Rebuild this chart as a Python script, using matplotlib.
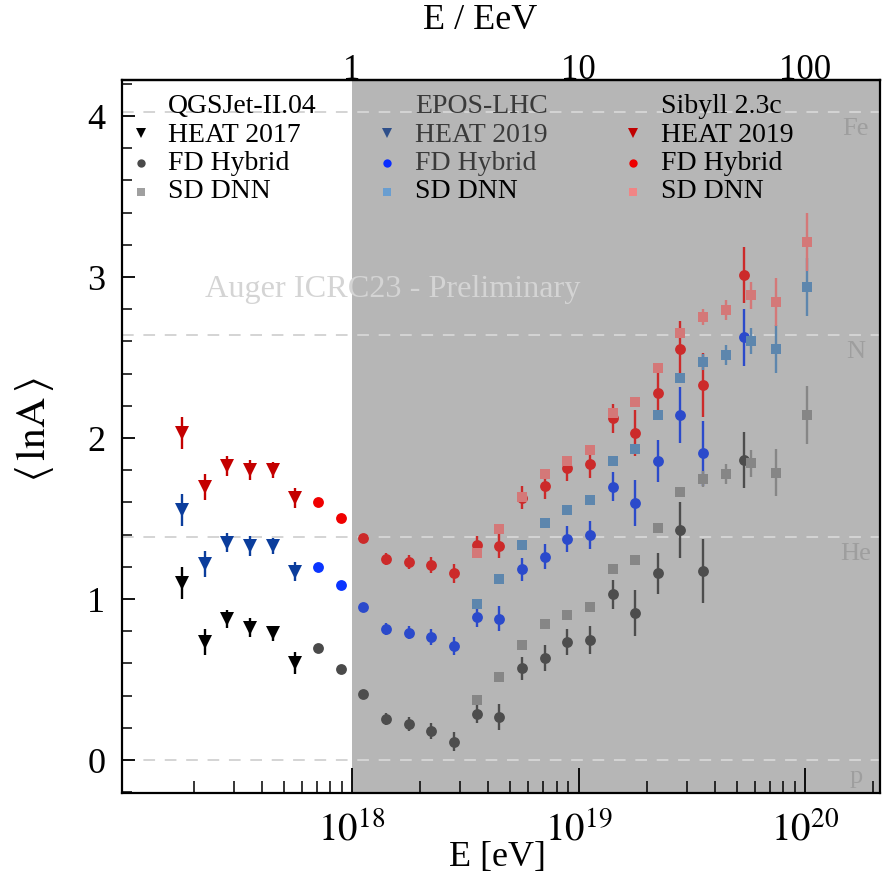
import numpy as np
import matplotlib
matplotlib.use("Agg")
import matplotlib.pyplot as plt
from matplotlib.ticker import FixedLocator, NullFormatter

plt.rcParams["font.family"] = ["Liberation Serif", "DejaVu Serif"]
plt.rcParams["mathtext.fontset"] = "stix"

# ---------------- data: <lnA> vs log10(E/eV) ----------------
# HEAT (low-energy extension) points
heat_lgE = [17.25, 17.35, 17.45, 17.55, 17.65, 17.75]
heat_qgs = [1.10, 0.735, 0.874, 0.822, 0.787, 0.600]
heat_qgs_err = [0.10, 0.08, 0.055, 0.06, 0.045, 0.068]
heat_epos = [1.553, 1.217, 1.350, 1.331, 1.331, 1.168]
heat_epos_err = [0.098, 0.083, 0.06, 0.062, 0.05, 0.059]
heat_sib = [2.029, 1.694, 1.826, 1.801, 1.801, 1.629]
heat_sib_err = [0.10, 0.08, 0.062, 0.062, 0.05, 0.062]

# FD hybrid points
fd_lgE = [17.85, 17.95, 18.05, 18.15, 18.25, 18.35, 18.45, 18.55, 18.65, 18.75,
          18.85, 18.95, 19.05, 19.15, 19.25, 19.35, 19.45, 19.55, 19.73]
fd_qgs = [0.694, 0.563, 0.412, 0.255, 0.224, 0.182, 0.114, 0.288, 0.267, 0.569,
          0.634, 0.731, 0.745, 1.031, 0.911, 1.159, 1.429, 1.176, 1.863]
fd_epos = [1.201, 1.085, 0.950, 0.813, 0.791, 0.764, 0.708, 0.886, 0.878, 1.186,
           1.263, 1.373, 1.398, 1.698, 1.594, 1.857, 2.143, 1.905, 2.625]
fd_sib = [1.604, 1.501, 1.377, 1.247, 1.230, 1.209, 1.160, 1.333, 1.331, 1.630,
          1.700, 1.811, 1.836, 2.122, 2.029, 2.277, 2.551, 2.331, 3.012]
fd_err = [0.012, 0.012, 0.02, 0.038, 0.042, 0.05, 0.058, 0.058, 0.078, 0.072,
          0.078, 0.08, 0.085, 0.09, 0.143, 0.128, 0.175, 0.20, 0.175]

# SD (deep neural network) points
sd_lgE = [18.55, 18.65, 18.75, 18.85, 18.95, 19.05, 19.15, 19.25, 19.35, 19.45,
          19.55, 19.65, 19.76, 19.87, 20.01]
sd_qgs = [0.373, 0.514, 0.712, 0.843, 0.902, 0.952, 1.184, 1.242, 1.443, 1.663,
          1.743, 1.775, 1.843, 1.785, 2.145]
sd_epos = [0.971, 1.122, 1.335, 1.470, 1.553, 1.615, 1.855, 1.934, 2.145, 2.375,
           2.474, 2.517, 2.604, 2.553, 2.936]
sd_sib = [1.284, 1.433, 1.634, 1.776, 1.859, 1.925, 2.157, 2.226, 2.437, 2.654,
          2.754, 2.795, 2.886, 2.845, 3.215]
sd_err = [0.02, 0.02, 0.02, 0.02, 0.025, 0.025, 0.03, 0.03, 0.03, 0.03,
          0.05, 0.062, 0.082, 0.148, 0.18]

# reference nuclei
nuclei = ["p", "He", "N", "Fe"]
mass_numbers = [1, 4, 14, 56]

SHADE_START = 1e18

# ---------------- figure ----------------
fig = plt.figure(figsize=(8.85, 8.76), dpi=100)
ax = fig.add_axes([0.1379, 0.0947, 0.8565, 0.814])
ax.set_xscale("log")
XMIN, XMAX = 10 ** 16.985, 10 ** 20.331
ax.axvspan(SHADE_START, 1e21, color="#b6b6b6", lw=0, zorder=0)


def draw(lgE, val, err, marker, ms, c_out, c_in, z):
    E = 10 ** np.asarray(lgE, float)
    v = np.asarray(val, float)
    e = np.asarray(err, float)
    for mask, col in ((E < SHADE_START, c_out), (E >= SHADE_START, c_in)):
        if mask.any():
            ax.errorbar(E[mask], v[mask], yerr=e[mask], fmt=marker, ms=ms,
                        color=col, mec=col, mfc=col, mew=0, elinewidth=1.7,
                        capsize=0, zorder=z)


# composition reference lines
for name, A in zip(nuclei, mass_numbers):
    lnA = np.log(A)
    ax.axhline(lnA, color="#d4d4d4", lw=1.4, ls=(0, (6, 5)), zorder=1)
    ax.text(0.968, lnA - 0.105, name, transform=ax.get_yaxis_transform(),
            ha="center", va="center", fontsize=19, color="#9e9e9e", zorder=1)

ax.text(0.1095, 2.925, "Auger ICRC23 - Preliminary",
        transform=ax.get_yaxis_transform(), ha="left", va="center",
        fontsize=23.2, color="#d4d4d4", zorder=1)

# HEAT
draw(heat_lgE, heat_qgs, heat_qgs_err, "v", 9.6, "#000000", "#000000", 3)
draw(heat_lgE, heat_epos, heat_epos_err, "v", 9.6, "#0b3d9c", "#0b3d9c", 3)
draw(heat_lgE, heat_sib, heat_sib_err, "v", 9.6, "#c40000", "#c40000", 3)
# FD hybrid
draw(fd_lgE, fd_qgs, fd_err, "o", 7.8, "#4a4a4a", "#4d4d4d", 3)
draw(fd_lgE, fd_epos, fd_err, "o", 7.8, "#0a35ff", "#2b4acb", 3)
draw(fd_lgE, fd_sib, fd_err, "o", 7.8, "#f00000", "#cc2a2a", 3)
# SD DNN
draw(sd_lgE, sd_qgs, sd_err, "s", 7.4, "#868686", "#868686", 4)
draw(sd_lgE, sd_epos, sd_err, "s", 7.4, "#5d86ad", "#5d86ad", 4)
draw(sd_lgE, sd_sib, sd_err, "s", 7.4, "#d47878", "#d47878", 4)

# ---------------- legend blocks ----------------
LEG_FS = 20
text_rows = [0.9537, 0.9137, 0.8738, 0.8345]
key_rows = [0.9253, 0.8841, 0.8434]
blocks = [
    (0.0251, 0.0607, "QGSJet-II.04",
     [("v", "#000000", 6.8, "HEAT 2017"), ("o", "#4a4a4a", 6.0, "FD Hybrid"),
      ("s", "#a0a0a0", 5.6, "SD DNN")],
     ["#000000", "#000000", "#000000", "#000000"]),
    (0.3496, 0.3865, "EPOS-LHC",
     [("v", "#2e4f8a", 6.8, "HEAT 2019"), ("o", "#0a2dff", 6.0, "FD Hybrid"),
      ("s", "#6a9ed0", 5.6, "SD DNN")],
     ["#3a3a3a", "#3a3a3a", "#3a3a3a", "#000000"]),
    (0.6741, 0.7111, "Sibyll 2.3c",
     [("v", "#c00000", 6.8, "HEAT 2019"), ("o", "#ee0000", 6.0, "FD Hybrid"),
      ("s", "#f08585", 5.6, "SD DNN")],
     ["#000000", "#000000", "#000000", "#000000"]),
]
for xk, xt, title, keys, tcols in blocks:
    ax.text(xt, text_rows[0], title, transform=ax.transAxes, ha="left",
            va="baseline", fontsize=LEG_FS, color=tcols[0], zorder=6)
    for (mk, col, ms, lab), yk, yt, tc in zip(keys, key_rows, text_rows[1:], tcols[1:]):
        ax.plot([xk], [yk], marker=mk, ms=ms, color=col, mew=0, ls="none",
                transform=ax.transAxes, zorder=6)
        ax.text(xt, yt, lab, transform=ax.transAxes, ha="left", va="baseline",
                fontsize=LEG_FS, color=tc, zorder=6)

# ---------------- axes ----------------
ax.set_xlim(XMIN, XMAX)
ax.set_ylim(-0.205, 4.224)

ax.xaxis.set_major_locator(FixedLocator([1e18, 1e19, 1e20]))
ax.set_xticklabels([r"$10^{18}$", r"$10^{19}$", r"$10^{20}$"])
minors = [m * 10.0 ** d for d in (17, 18, 19, 20) for m in range(2, 10)]
ax.xaxis.set_minor_locator(FixedLocator(minors))
ax.xaxis.set_minor_formatter(NullFormatter())
ax.tick_params(axis="x", which="major", direction="in", length=18, width=1.3,
               labelsize=28, pad=14, top=False)
ax.tick_params(axis="x", which="minor", direction="in", length=9, width=1.1,
               top=False)

ax.yaxis.set_major_locator(FixedLocator([0, 1, 2, 3, 4]))
ax.yaxis.set_minor_locator(FixedLocator(np.arange(-0.2, 4.3, 0.2)))
ax.tick_params(axis="y", which="major", direction="in", length=9, width=1.3,
               labelsize=26, pad=12, right=False)
ax.tick_params(axis="y", which="minor", direction="in", length=7, width=1.1,
               right=False)

for sp in ax.spines.values():
    sp.set_linewidth(1.6)

ax.set_xlabel("E [eV]", fontsize=26)
ax.xaxis.set_label_coords(0.495, -0.067)
ax.set_ylabel(r"$\langle\,\mathrm{lnA}\,\rangle$", fontsize=30)
ax.yaxis.set_label_coords(-0.087, 0.509)

top = ax.secondary_xaxis("top", functions=(lambda x: x / 1e18, lambda x: x * 1e18))
top.xaxis.set_major_locator(FixedLocator([1, 10, 100]))
top.set_xticklabels(["1", "10", "100"])
top.xaxis.set_minor_locator(FixedLocator([]))
top.tick_params(axis="x", which="both", length=0, labelsize=25, pad=-5)
top.spines["top"].set_linewidth(1.6)
fig.text(0.5424, 0.977, "E / EeV", ha="center", va="center", fontsize=26)

fig.savefig("out.png", dpi=100, facecolor="white")
